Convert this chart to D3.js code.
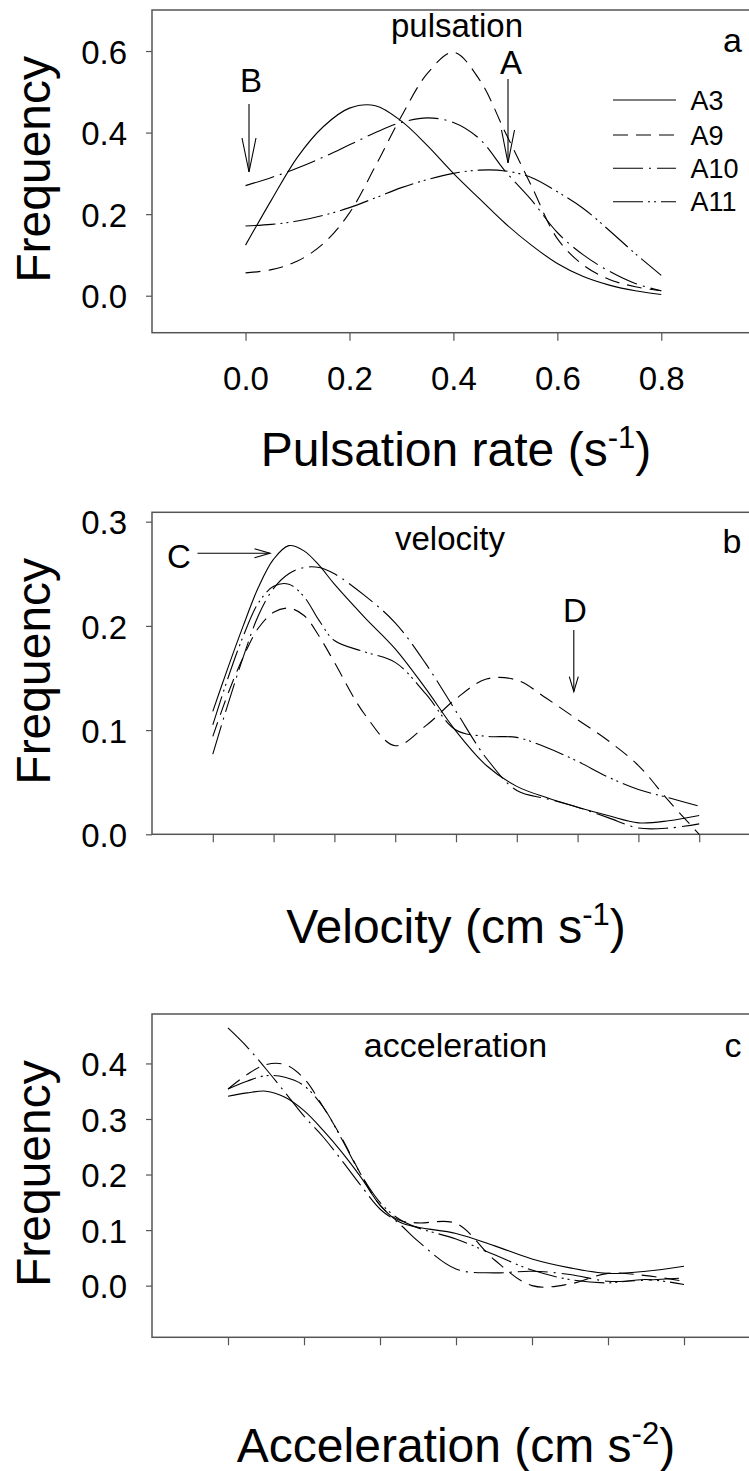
<!DOCTYPE html>
<html>
<head>
<meta charset="utf-8">
<script src="https://cdn.jsdelivr.net/npm/d3@7"></script>
<style>
  body { margin: 0; background: #fff; }
  svg { display: block; }
  text { font-family: "Liberation Sans", Arial, Helvetica, sans-serif; fill: #000; }
</style>
</head>
<body>
<svg id="fig" width="749" height="1471"></svg>
<script>
// ---- series ----
const seriesNames = ["A3", "A9", "A10", "A11"];

// (a) pulsation rate, s^-1
const pulseX   = [0, 0.05, 0.1, 0.15, 0.2, 0.25, 0.3, 0.35, 0.4, 0.45, 0.5, 0.55, 0.6, 0.65, 0.7, 0.75, 0.8];
const pulseA3  = [0.124, 0.235, 0.34, 0.415, 0.46, 0.466, 0.428, 0.368, 0.30, 0.238, 0.177, 0.124, 0.079, 0.047, 0.026, 0.012, 0.003];
const pulseA9  = [0.056, 0.064, 0.085, 0.128, 0.203, 0.318, 0.44, 0.545, 0.597, 0.53, 0.40, 0.27, 0.14, 0.075, 0.04, 0.022, 0.012];
const pulseA10 = [0.27, 0.29, 0.313, 0.34, 0.37, 0.40, 0.425, 0.436, 0.425, 0.385, 0.305, 0.235, 0.155, 0.10, 0.06, 0.03, 0.012];
const pulseA11 = [0.171, 0.175, 0.183, 0.197, 0.216, 0.24, 0.265, 0.285, 0.30, 0.308, 0.306, 0.29, 0.255, 0.214, 0.16, 0.103, 0.05];
const pulseTicksX = [0, 0.2, 0.4, 0.6, 0.8];
const pulseTicksY = [0, 0.2, 0.4, 0.6];

// (b) velocity, tick index
const velX   = [0, 0.25, 0.5, 0.75, 1, 1.25, 1.5, 1.75, 2, 2.5, 3, 3.5, 4, 4.5, 5, 5.5, 6, 6.5, 7, 7.5, 8];
const velA3  = [0.118, 0.16, 0.20, 0.237, 0.264, 0.277, 0.272, 0.258, 0.24, 0.208, 0.178, 0.14, 0.099, 0.066, 0.046, 0.035, 0.026, 0.018, 0.011, 0.013, 0.018];
const velA9  = [0.094, 0.135, 0.17, 0.198, 0.213, 0.217, 0.21, 0.19, 0.165, 0.115, 0.085, 0.104, 0.13, 0.149, 0.148, 0.13, 0.11, 0.09, 0.066, 0.032, 0.0];
const velA10 = [0.077, 0.125, 0.17, 0.21, 0.236, 0.25, 0.256, 0.256, 0.25, 0.229, 0.203, 0.164, 0.118, 0.073, 0.042, 0.034, 0.026, 0.016, 0.006, 0.006, 0.01];
const velA11 = [0.105, 0.15, 0.19, 0.222, 0.238, 0.24, 0.228, 0.205, 0.186, 0.175, 0.165, 0.135, 0.10, 0.094, 0.093, 0.083, 0.07, 0.055, 0.043, 0.035, 0.027];
const velTicksX = [0, 1, 2, 3, 4, 5, 6, 7, 8];
const velTicksY = [0, 0.1, 0.2, 0.3];

// (c) acceleration, tick index
const accX   = [0, 0.25, 0.5, 0.75, 1, 1.25, 1.5, 1.75, 2, 2.25, 2.5, 3, 3.5, 4, 4.5, 5, 5.5, 6];
const accA3  = [0.341, 0.347, 0.35, 0.339, 0.315, 0.28, 0.24, 0.195, 0.145, 0.115, 0.105, 0.094, 0.072, 0.048, 0.032, 0.022, 0.026, 0.035];
const accA9  = [0.354, 0.38, 0.398, 0.398, 0.373, 0.322, 0.265, 0.20, 0.145, 0.118, 0.113, 0.112, 0.047, 0.0, 0.003, 0.022, 0.018, 0.008];
const accA10 = [0.464, 0.43, 0.39, 0.348, 0.305, 0.268, 0.225, 0.18, 0.138, 0.112, 0.08, 0.03, 0.023, 0.026, 0.02, 0.008, 0.01, 0.014];
const accA11 = [0.354, 0.368, 0.378, 0.375, 0.36, 0.322, 0.263, 0.20, 0.15, 0.12, 0.104, 0.084, 0.056, 0.028, 0.011, 0.005, 0.011, 0.002];
const accTicksX = [0, 1, 2, 3, 4, 5, 6];
const accTicksY = [0, 0.1, 0.2, 0.3, 0.4];

// ---- line styles ----
const dashFor = { A3: null, A9: "15,8", A10: "30,6,2,6", A11: "30,5,2,4,2,5" };
const frameColor = "#555";

const svg = d3.select("#fig");
const fmt = d3.format(".1f");

function drawPanel(p) {
  const g = svg.append("g");
  const x = d3.scaleLinear().domain(p.xDomain).range([152, 760]);
  const y = d3.scaleLinear().domain(p.yDomain).range([p.bottom, p.top]);

  // frame (right side runs past the page edge)
  g.append("rect")
    .attr("x", 152).attr("y", p.top)
    .attr("width", 608).attr("height", p.bottom - p.top)
    .attr("fill", "none").attr("stroke", frameColor).attr("stroke-width", 1.5);

  // y axis
  const ya = g.append("g").attr("transform", "translate(152,0)")
    .call(d3.axisLeft(y).tickValues(p.yTicks).tickSize(6).tickPadding(19).tickFormat(fmt));
  ya.select(".domain").remove();
  ya.selectAll(".tick line").attr("stroke", frameColor).attr("stroke-width", 1.2);
  ya.selectAll(".tick text").attr("font-size", 33).attr("dy", "0.37em")
    .style("font-family", '"Liberation Sans", Arial, sans-serif').attr("fill", "#000");

  // x axis
  const xa = g.append("g").attr("transform", `translate(0,${p.bottom})`)
    .call(d3.axisBottom(x).tickValues(p.xTicks).tickSize(8).tickPadding(26)
      .tickFormat(p.xLabels ? fmt : () => ""));
  xa.select(".domain").remove();
  xa.selectAll(".tick line").attr("stroke", frameColor).attr("stroke-width", 1.2);
  xa.selectAll(".tick text").attr("font-size", 33)
    .style("font-family", '"Liberation Sans", Arial, sans-serif').attr("fill", "#000");

  // y title
  g.append("text")
    .attr("transform", `translate(50,${(p.top + p.bottom) / 2 - 2}) rotate(-90)`)
    .attr("text-anchor", "middle").attr("font-size", 48).text("Frequency");

  // x title with superscript
  const t = g.append("text").attr("x", 456).attr("y", p.titleY)
    .attr("text-anchor", "middle").attr("font-size", 48);
  t.append("tspan").text(p.title);
  t.append("tspan").attr("font-size", 31).attr("dy", -18).text(p.sup);
  t.append("tspan").attr("dy", 18).text(")");

  // curves
  const line = d3.line()
    .x((d, i) => x(p.xs[i]))
    .y(d => y(d))
    .curve(d3.curveCatmullRom.alpha(0.5));
  seriesNames.forEach(name => {
    g.append("path")
      .attr("d", line(p.series[name]))
      .attr("fill", "none").attr("stroke", "#000").attr("stroke-width", 1.1)
      .attr("stroke-dasharray", dashFor[name]);
  });
  return { g, x, y };
}

function arrow(g, x1, y1, x2, y2, headLen, halfW) {
  const ang = Math.atan2(y2 - y1, x2 - x1);
  const bx = x2 - headLen * Math.cos(ang), by = y2 - headLen * Math.sin(ang);
  const nx = -Math.sin(ang) * halfW, ny = Math.cos(ang) * halfW;
  g.append("line").attr("x1", x1).attr("y1", y1).attr("x2", x2).attr("y2", y2)
    .attr("stroke", "#000").attr("stroke-width", 1.1);
  g.append("path")
    .attr("d", `M${bx + nx},${by + ny}L${x2},${y2}L${bx - nx},${by - ny}`)
    .attr("fill", "none").attr("stroke", "#000").attr("stroke-width", 1.1);
}

function label(g, x, y, txt, size, anchor) {
  g.append("text").attr("x", x).attr("y", y).attr("font-size", size)
    .attr("text-anchor", anchor || "middle").text(txt);
}

// ---- panel a ----
const pa = drawPanel({
  top: 10, bottom: 332.7,
  xDomain: [-0.18, 0.99], yDomain: [-0.0907, 0.7006],
  xTicks: pulseTicksX, yTicks: pulseTicksY, xLabels: true,
  xs: pulseX,
  series: { A3: pulseA3, A9: pulseA9, A10: pulseA10, A11: pulseA11 },
  title: "Pulsation rate (s", sup: "-1", titleY: 465.7
});
label(pa.g, 457, 37, "pulsation", 33);
label(pa.g, 723, 51.7, "a", 34, "start");
label(pa.g, 511, 74, "A", 33);
label(pa.g, 251, 91.7, "B", 33);
arrow(pa.g, 508, 79, 508, 163, 33, 6.5);
arrow(pa.g, 249, 104, 249, 172, 34, 7);

// legend
const legRows = [100, 135, 168.3, 201.7];
seriesNames.forEach((name, i) => {
  pa.g.append("line").attr("x1", 613).attr("x2", 676)
    .attr("y1", legRows[i]).attr("y2", legRows[i])
    .attr("stroke", "#000").attr("stroke-width", 1.1)
    .attr("stroke-dasharray", dashFor[name]);
  label(pa.g, 690.5, legRows[i] + 9.5, name, 27, "start");
});

// ---- panel b ----
const pb = drawPanel({
  top: 512.3, bottom: 834.3,
  xDomain: [-1, 9], yDomain: [0, 0.309],
  xTicks: velTicksX, yTicks: velTicksY, xLabels: false,
  xs: velX,
  series: { A3: velA3, A9: velA9, A10: velA10, A11: velA11 },
  title: "Velocity (cm s", sup: "-1", titleY: 943.3
});
label(pb.g, 450, 550, "velocity", 33);
label(pb.g, 722.5, 553.3, "b", 34, "start");
label(pb.g, 179, 568.3, "C", 33);
arrow(pb.g, 197.5, 553.3, 270, 553.3, 15.5, 4.5);
label(pb.g, 575, 621.7, "D", 33);
arrow(pb.g, 573.8, 630, 573.8, 691.7, 15, 4.5);

// ---- panel c ----
const pc = drawPanel({
  top: 1014, bottom: 1337.3,
  xDomain: [-1, 7], yDomain: [-0.093, 0.489],
  xTicks: accTicksX, yTicks: accTicksY, xLabels: false,
  xs: accX,
  series: { A3: accA3, A9: accA9, A10: accA10, A11: accA11 },
  title: "Acceleration (cm s", sup: "-2", titleY: 1461.7
});
label(pc.g, 455.5, 1056.7, "acceleration", 34);
label(pc.g, 724.5, 1056.7, "c", 34, "start");
</script>
</body>
</html>
